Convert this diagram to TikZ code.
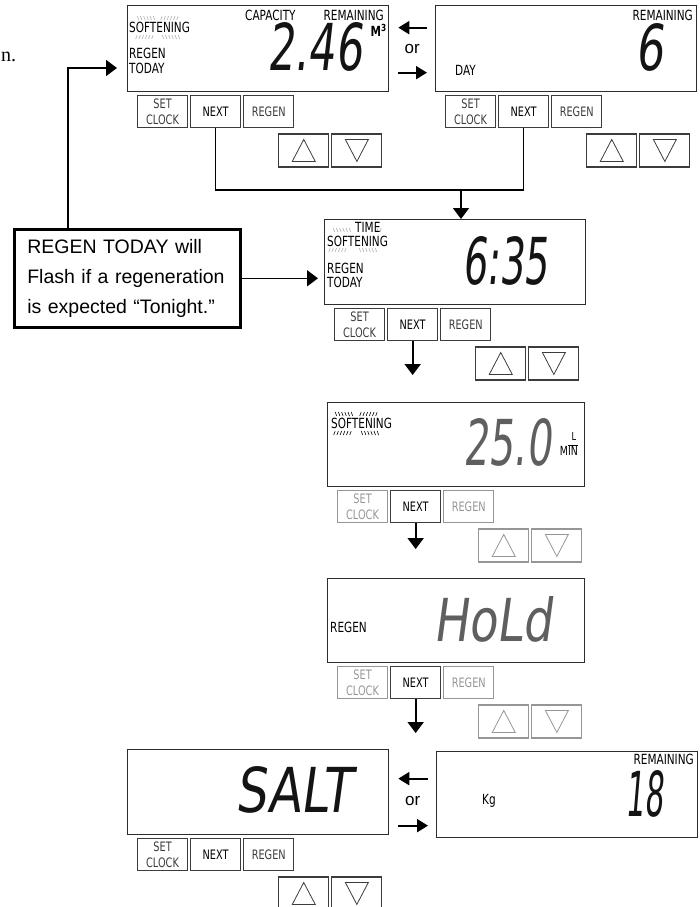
\documentclass[tikz,border=0pt]{standalone}
\usepackage{fontspec}
\setmainfont{Liberation Sans}
\newfontfamily\lcdfont[FakeStretch=0.75]{DejaVu Sans}
\newfontfamily\segfont[FakeStretch=0.7,FakeSlant=0.12]{DejaVu Sans}
\newfontfamily\pagefont{Liberation Serif}
\usepackage{graphicx}
\usepackage{tikz}
\usetikzlibrary{arrows.meta,positioning,calc}
\definecolor{lcdline}{RGB}{45,45,45}
\definecolor{keyline}{RGB}{60,60,60}
\definecolor{kgray}{RGB}{150,150,150}
\definecolor{flashgray}{RGB}{175,175,175}
\definecolor{segdark}{RGB}{20,20,20}
\definecolor{seggray}{RGB}{95,95,95}

% row of flashing tick marks: x, y, count, slant, colour
\newcommand\ticks[5]{%
  \foreach \i in {1,...,#3}
    \draw[#5, line width=0.6pt] ({#1+3.2*\i},#2) -- ++(#4,4);}

\begin{document}
\begin{tikzpicture}[x=1pt, y=-1pt,
    lcd/.style={draw=lcdline, line width=1.3pt, minimum width=261pt,
                minimum height=86pt, inner sep=0pt},
    key/.style={draw=keyline, line width=1.1pt, minimum width=50pt,
                minimum height=32pt, inner sep=0pt, align=center,
                font=\lcdfont\fontsize{13}{15.5}\selectfont},
    lbl/.style={inner sep=0pt, align=left, font=\lcdfont\fontsize{14}{15}\selectfont},
    seg/.style={inner sep=0pt, anchor=south west, font=\segfont},
    link/.style={line width=1.5pt, -{Triangle[length=11pt, width=16pt]}},
    wire/.style={line width=1.5pt},
    orarrow/.style={line width=2pt, -{Triangle[length=11pt, width=13pt]}},
    note/.style={draw, line width=2.6pt, text width=200pt, inner xsep=13pt,
                 minimum height=98pt, align=left,
                 font=\fontsize{19.5}{30}\selectfont},
  ]
  \useasboundingbox (0,0) rectangle (700,907);
  \node[font=\pagefont\fontsize{20}{20}\selectfont, anchor=base west, inner sep=0pt] (cut) at (1,62) {n.};

  % displays
  \node[lcd, anchor=north west] (cap)  at (127,5)   {};
  \node[lcd, anchor=north west] (day)  at (435,5)   {};
  \node[lcd, anchor=north west, minimum height=85pt] (time) at (324,219) {};
  \node[lcd, anchor=north west, minimum width=257pt, minimum height=84pt] (flow) at (327,402) {};
  \node[lcd, anchor=north west, minimum width=257pt, minimum height=84pt] (hold) at (327,578) {};
  \node[lcd, anchor=north west, minimum height=85pt] (salt) at (127,749) {};
  \node[lcd, anchor=north west] (kg)   at (436,751) {};

  % keypads
  \foreach \p/\col in {cap/keyline, day/keyline, time/keyline, flow/kgray, hold/kgray, salt/keyline} {
    \node[key, draw=\col, text=\col, below right=3pt and 10pt of \p.south west] (\p-set) {SET\\CLOCK};
    \node[key, right=2pt of \p-set] (\p-next) {NEXT};
    \node[key, draw=\col, text=\col, right=2pt of \p-next] (\p-regen) {REGEN};
    \node[key, draw=\col, minimum height=33pt, below right=5pt and 37pt of \p-next.south east] (\p-up) {};
    \node[key, draw=\col, minimum height=33pt, right=2pt of \p-up] (\p-down) {};
    \draw[\col, line width=0.8pt] ([shift={(-11.5pt,-11pt)}]\p-up.center) -- ([shift={(11.5pt,-11pt)}]\p-up.center)
      -- ([shift={(0pt,11pt)}]\p-up.center) -- cycle;
    \draw[\col, line width=0.8pt] ([shift={(-11.5pt,11pt)}]\p-down.center) -- ([shift={(11.5pt,11pt)}]\p-down.center)
      -- ([shift={(0pt,-11pt)}]\p-down.center) -- cycle;
  }

  % capacity screen
  \ticks{134}{16}{6}{1.5}{flashgray}
  \ticks{159}{16}{6}{-1.5}{flashgray}
  \node[lbl, anchor=west] (capsoft) at (129,27) {SOFTENING};
  \ticks{134}{35}{6}{-1.5}{flashgray}
  \ticks{159}{35}{6}{1.5}{flashgray}
  \node[lbl, anchor=west] (capregen) at (129,53) {REGEN};
  \node[lbl, anchor=west] (captoday) at (129,68) {TODAY};
  \node[lbl, anchor=west] (capcap) at (245,15) {CAPACITY};
  \node[lbl, anchor=east] (caprem) at (384,15) {REMAINING};
  \node[lbl, anchor=east] (capunit) at (387,30) {\bfseries M\textsuperscript{3}};
  \node[seg, text=segdark] (capval) at (267,72) {\resizebox{95pt}{48pt}{2.46}};

  % day screen
  \node[lbl, anchor=east] (dayrem) at (693,15) {REMAINING};
  \node[lbl, anchor=west] (dayday) at (455,70) {DAY};
  \node[seg, text=segdark] (dayval) at (635,72) {\resizebox{28pt}{47pt}{6}};

  % time screen
  \ticks{330}{228}{6}{1.5}{flashgray}
  \ticks{375}{228}{2}{-1.5}{flashgray}
  \node[lbl, anchor=west] (timetime) at (355,227) {TIME};
  \node[lbl, anchor=west] (timesoft) at (327,241) {SOFTENING};
  \ticks{327}{248}{6}{-1.5}{flashgray}
  \ticks{356}{248}{6}{1.5}{flashgray}
  \node[lbl, anchor=west] (timeregen) at (327,268) {REGEN};
  \node[lbl, anchor=west] (timetoday) at (327,282) {TODAY};
  \node[seg, text=segdark] (timeval) at (462,286) {\resizebox{86pt}{48pt}{6:35}};

  % flow screen
  \ticks{332}{412}{6}{1.5}{black}
  \ticks{358}{412}{6}{-1.5}{black}
  \node[lbl, anchor=west] (flowsoft) at (331,423) {SOFTENING};
  \ticks{332}{431}{6}{-1.5}{black}
  \ticks{358}{431}{6}{1.5}{black}
  \node[seg, text=seggray] (flowval) at (463,467) {\resizebox{88pt}{47pt}{25.0}};
  \node[lbl, font=\lcdfont\fontsize{11}{11}\selectfont] (flowl) at (574,436) {L};
  \node[lbl, anchor=east, font=\lcdfont\fontsize{12.5}{12}\selectfont] (flowmin) at (578,451) {MIN};
  \draw[line width=0.7pt] ([yshift=1pt]flowmin.north east) -- ++(-10,0);

  % hold screen
  \node[lbl, anchor=west] (holdregen) at (330,627) {REGEN};
  \node[seg, text=seggray] (holdval) at (433,643) {\resizebox{119pt}{45pt}{HoLd}};

  % salt screens
  \node[seg, text=segdark] (saltval) at (235,814) {\resizebox{116pt}{46pt}{SALT}};
  \node[lbl, anchor=east] (kgrem) at (694,759) {REMAINING};
  \node[lbl, anchor=west] (kgunit) at (482,801) {Kg};
  \node[seg, text=segdark] (kgval) at (625,818) {\resizebox{38pt}{46pt}{18}};

  % flow of screens
  \coordinate (join) at (461,190);
  \draw[wire] (cap-next.south) |- (join) -| (day-next.south);
  \draw[link] (join) -- (join |- time.north);
  \draw[link, line width=1.8pt, shorten >=27pt] (time-next.south) -- (time-next.south |- flow.north);
  \draw[link, line width=1.8pt, shorten >=29pt] (flow-next.south) -- (flow-next.south |- hold.north);
  \draw[link, line width=1.8pt, shorten >=18pt] (hold-next.south) -- (hold-next.south |- kg.north);

  \draw[orarrow, shorten <=8pt, shorten >=9pt] ([yshift=21pt]day.west) -- ([yshift=21pt]cap.east);
  \draw[orarrow, shorten <=9pt, shorten >=8pt] ([yshift=-24pt]cap.east) -- ([yshift=-24pt]day.west);
  \node[font=\fontsize{17}{17}\selectfont] (or1) at ($(cap.east)!0.5!(day.west)$) {or};
  \draw[orarrow, shorten <=8pt, shorten >=9pt] ([yshift=16pt]kg.west) -- ([yshift=16pt]kg.west -| salt.east);
  \draw[orarrow, shorten <=9pt, shorten >=8pt] ([yshift=-31pt]kg.west -| salt.east) -- ([yshift=-31pt]kg.west);
  \node[font=\fontsize{17}{17}\selectfont] (or2) at ($(salt.east)!0.5!(kg.west)+(0,8)$) {or};

  % callout
  \node[note, anchor=north west] (note) at (13,228)
    {REGEN TODAY will\\Flash if a regeneration\\is expected “Tonight.”};
  \coordinate (regenin) at (117,68);
  \draw[link] ([xshift=55pt]note.north west) |- (regenin);
  \draw[link, shorten >=6pt] (note.east) -- (note.east -| time.west);
\end{tikzpicture}
\end{document}
